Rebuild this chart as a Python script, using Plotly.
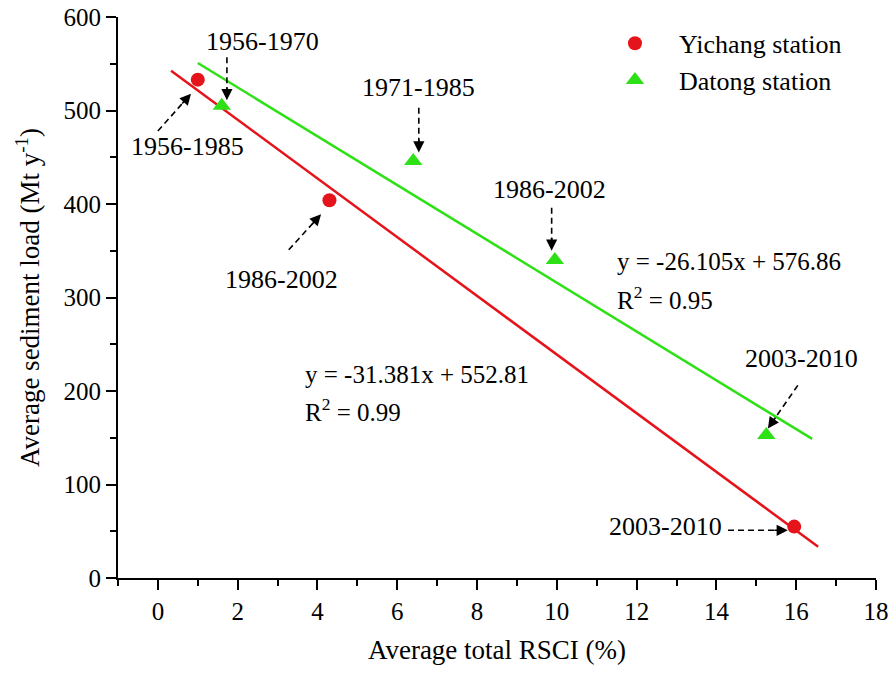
import plotly.graph_objects as go

# ---- data ----
yichang_x = [1.0, 4.3, 15.95]
yichang_y = [533, 404, 55]
yichang_periods = ["1956-1985", "1986-2002", "2003-2010"]

datong_x = [1.6, 6.4, 9.95, 15.25]
datong_y = [505, 446, 340, 153]
datong_periods = ["1956-1970", "1971-1985", "1986-2002", "2003-2010"]

# regression (as printed on chart)
yichang_slope, yichang_icpt, yichang_r2 = -31.381, 552.81, 0.99
datong_slope, datong_icpt, datong_r2 = -26.105, 576.86, 0.95
yichang_fit_x = [0.33, 16.55]
datong_fit_x = [1.0, 16.4]

x_ticks = [0, 2, 4, 6, 8, 10, 12, 14, 16, 18]
y_ticks = [0, 100, 200, 300, 400, 500, 600]

RED = "#E5141B"
GREEN = "#2EE016"
FONT = "Times New Roman, Liberation Serif, serif"

fig = go.Figure()

fig.add_trace(go.Scatter(
    x=yichang_fit_x, y=[yichang_slope * v + yichang_icpt for v in yichang_fit_x],
    mode="lines", line=dict(color=RED, width=2.5), showlegend=False, hoverinfo="skip"))
fig.add_trace(go.Scatter(
    x=datong_fit_x, y=[datong_slope * v + datong_icpt for v in datong_fit_x],
    mode="lines", line=dict(color=GREEN, width=2.5), showlegend=False, hoverinfo="skip"))

fig.add_trace(go.Scatter(
    x=yichang_x, y=yichang_y, mode="markers", name="Yichang station",
    marker=dict(symbol="circle", size=14, color=RED, line=dict(width=0))))
fig.add_trace(go.Scatter(
    x=datong_x, y=datong_y, mode="markers", name="Datong station",
    marker=dict(symbol="triangle-up", size=16, color=GREEN, line=dict(width=0))))

# label annotations: (text, label x, label y, tail x, tail y, tip x, tip y)
labels = [
    (datong_periods[0], 2.61, 574, 1.73, 557, 1.73, 511),
    (yichang_periods[0], 0.75, 461, 0.0, 478, 0.83, 518),
    (datong_periods[1], 6.54, 525, 6.54, 503, 6.54, 455),
    (datong_periods[2], 9.82, 415, 9.87, 396, 9.87, 350),
    (yichang_periods[1], 3.11, 319, 3.28, 351, 4.09, 389),
    (datong_periods[3], 16.12, 235, 16.04, 206, 15.29, 160),
    (yichang_periods[2], 12.73, 55, 14.29, 51, 15.79, 51),
]

X0, X1, Y0, Y1 = -1, 18, 0, 600
PW, PH = 758, 561
def to_px(x, y):
    return ((x - X0) / (X1 - X0) * PW, (y - Y0) / (Y1 - Y0) * PH)
def to_data(px, py):
    return (px / PW * (X1 - X0) + X0, py / PH * (Y1 - Y0) + Y0)

annotations = []
shapes = []
for text, lx, ly, tx, ty, hx, hy in labels:
    annotations.append(dict(x=lx, y=ly, xref="x", yref="y", text=text, showarrow=False,
                            font=dict(family=FONT, size=26, color="black")))
    tpx, tpy = to_px(tx, ty)
    hpx, hpy = to_px(hx, hy)
    d = ((hpx - tpx) ** 2 + (hpy - tpy) ** 2) ** 0.5
    ux, uy = (hpx - tpx) / d, (hpy - tpy) / d
    ex, ey = to_data(hpx - ux * 8, hpy - uy * 8)
    shapes.append(dict(type="line", xref="x", yref="y", x0=tx, y0=ty, x1=ex, y1=ey,
                       line=dict(color="black", width=1.6, dash="6px,4px")))
    sx, sy = to_data(hpx - ux * 14, hpy - uy * 14)
    annotations.append(dict(x=hx, y=hy, xref="x", yref="y", ax=sx, ay=sy, axref="x", ayref="y",
                            text=" ", font=dict(size=1), borderpad=0,
                            showarrow=True, arrowhead=2, arrowsize=1.4, arrowwidth=1.6,
                            arrowcolor="black", standoff=0, startstandoff=0))

eq_font = dict(family=FONT, size=25, color="black")
annotations += [
    dict(x=11.45, y=338, xref="x", yref="y", xanchor="left", showarrow=False, font=eq_font,
         text=f"y = {datong_slope}x + {datong_icpt}"),
    dict(x=11.45, y=300, xref="x", yref="y", xanchor="left", showarrow=False, font=eq_font,
         text=f"R<sup>2</sup> = {datong_r2}"),
    dict(x=3.63, y=218, xref="x", yref="y", xanchor="left", showarrow=False, font=eq_font,
         text=f"y = {yichang_slope}x + {yichang_icpt}"),
    dict(x=3.63, y=180, xref="x", yref="y", xanchor="left", showarrow=False, font=eq_font,
         text=f"R<sup>2</sup> = {yichang_r2}"),
]

axis_common = dict(showline=True, linecolor="black", linewidth=2, ticks="outside",
                   ticklen=10, tickwidth=2, tickcolor="black", showgrid=False, zeroline=False,
                   tickfont=dict(family=FONT, size=25, color="black"),
                   title_font=dict(family=FONT, size=27, color="black"), mirror=False,
                   automargin=False)

fig.update_layout(
    width=890, height=673,
    margin=dict(l=118, r=14, t=17, b=95),
    paper_bgcolor="white", plot_bgcolor="white",
    font=dict(family=FONT, size=25, color="black"),
    xaxis=dict(range=[X0, X1], tickvals=x_ticks, title=dict(text="Average total RSCI (%)", standoff=16),
               minor=dict(dtick=1, tick0=-1, ticks="outside", ticklen=6, tickwidth=2, tickcolor="black"),
               **axis_common),
    yaxis=dict(range=[Y0, Y1], tickvals=y_ticks,
               title=dict(text="Average sediment load (Mt y<sup>-1</sup>)", standoff=16),
               minor=dict(dtick=50, tick0=0, ticks="outside", ticklen=6, tickwidth=2, tickcolor="black"),
               **axis_common),
    legend=dict(x=0.624, y=0.995, xanchor="left", yanchor="top", bgcolor="rgba(0,0,0,0)",
                font=dict(family=FONT, size=26, color="black"), itemwidth=78, tracegroupgap=0),
    annotations=annotations, shapes=shapes,
)

fig.write_html("out.html", config={"displayModeBar": False},
               post_script="document.body.style.margin='0';")
